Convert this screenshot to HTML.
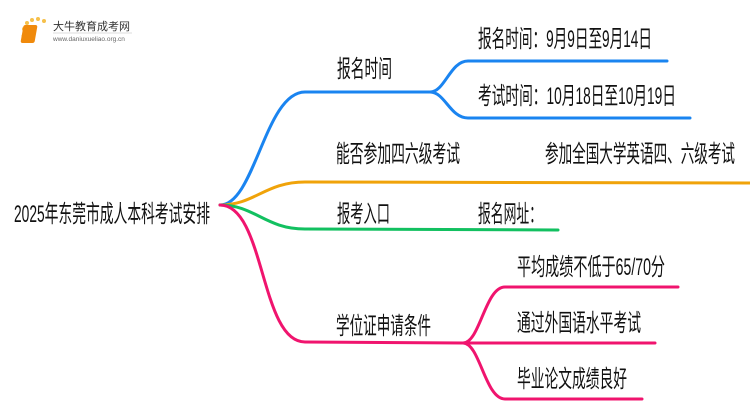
<!DOCTYPE html>
<html><head><meta charset="utf-8"><style>
body{margin:0;width:750px;height:410px;background:#fff;overflow:hidden}
text{font-family:"Liberation Sans","Noto Sans CJK SC",sans-serif;fill:#111}
</style></head><body>
<svg width="750" height="410" xmlns="http://www.w3.org/2000/svg">
<g fill="none" stroke-width="3" stroke-linecap="round">
<path d="M220 205 C255 205,265 92,305 92 L430 92" stroke="#1a84f0"/>
<path d="M430 92 C445 92,450 61,468 61 L667 61" stroke="#1a84f0"/>
<path d="M430 92 C445 92,450 118,468 118 L690 118" stroke="#1a84f0"/>
<path d="M220 205 C255 205,265 182,305 182 L750 183" stroke="#f0a30a"/>
<path d="M220 205 C255 205,265 229,305 229 L558 230" stroke="#12c060"/>
<path d="M220 205 C265 205,260 342,305 342 L463 343" stroke="#f0146e"/>
<path d="M463 343 C480 343,485 287,505 287 L678 287" stroke="#f0146e"/>
<path d="M463 343 L655 343" stroke="#f0146e"/>
<path d="M463 343 C480 343,485 399,505 399 L642 399" stroke="#f0146e"/>
</g>
<g font-size="24">
<text x="14" y="222" textLength="196" lengthAdjust="spacingAndGlyphs">2025年东莞市成人本科考试安排</text>
<text x="337" y="77" textLength="55" lengthAdjust="spacingAndGlyphs">报名时间</text>
<text x="478" y="47" textLength="174" lengthAdjust="spacingAndGlyphs">报名时间：9月9日至9月14日</text>
<text x="478" y="104" textLength="198" lengthAdjust="spacingAndGlyphs">考试时间：10月18日至10月19日</text>
<text x="336" y="162" textLength="124" lengthAdjust="spacingAndGlyphs">能否参加四六级考试</text>
<text x="545" y="162" textLength="190" lengthAdjust="spacingAndGlyphs">参加全国大学英语四、六级考试</text>
<text x="337" y="222" textLength="53" lengthAdjust="spacingAndGlyphs">报考入口</text>
<text x="478" y="222" textLength="64" lengthAdjust="spacingAndGlyphs">报名网址：</text>
<text x="336" y="334" textLength="95" lengthAdjust="spacingAndGlyphs">学位证申请条件</text>
<text x="517" y="275" textLength="148" lengthAdjust="spacingAndGlyphs">平均成绩不低于65/70分</text>
<text x="517" y="331" textLength="124" lengthAdjust="spacingAndGlyphs">通过外国语水平考试</text>
<text x="517" y="387" textLength="110" lengthAdjust="spacingAndGlyphs">毕业论文成绩良好</text>
</g>
<g>
<circle cx="24" cy="29" r="2" fill="#f6c04a"/><circle cx="27" cy="23" r="2" fill="#f6c04a"/>
<circle cx="32" cy="20" r="2" fill="#f6c04a"/><circle cx="38" cy="19" r="2" fill="#f6c04a"/>
<circle cx="44" cy="21" r="2" fill="#f6c04a"/><circle cx="23" cy="36" r="1.5" fill="#f6c04a"/>
<rect x="28" y="25" width="14" height="18" rx="2" fill="#f08a0c" transform="skewX(-10)"/>
<text x="53" y="30" font-size="11" style="fill:#333">大牛教育成考网</text>
<line x1="53" y1="33" x2="132" y2="33" stroke="#ddd"/>
<text x="53" y="41" font-size="6.5" style="fill:#666">www.daniuxueliao.org.cn</text>
</g>
</svg>
</body></html>
